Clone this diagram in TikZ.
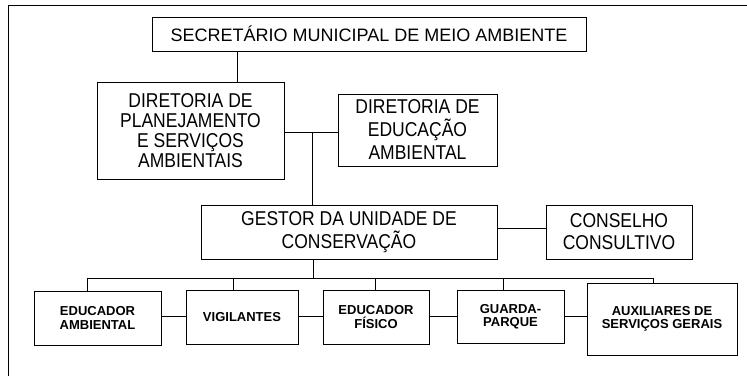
\documentclass[tikz,border=0pt]{standalone}
\usepackage{fontspec}
\setmainfont{Liberation Sans}
\newfontfamily\narrowf{Liberation Sans}[FakeStretch=0.875]
\begin{document}
\begin{tikzpicture}[x=1pt,y=-1pt,
  box/.style={draw,line width=1pt,inner sep=0pt,align=center,anchor=center},
  big/.style={box,font=\narrowf\fontsize{20}{20}\selectfont},
  bigwide/.style={box,font=\narrowf\fontsize{20}{23}\selectfont},
  small/.style={box,font=\bfseries\fontsize{13}{13.5}\selectfont},
  link/.style={line width=1pt}]
\useasboundingbox (0,0) rectangle (747,376);
% outer frame
\draw[line width=1pt] (8,376) -- (8,5) -- (747,5);
% nodes
\node[box,font=\fontsize{18}{20}\selectfont,minimum width=434,minimum height=34] (sec) at (369,34) {SECRETÁRIO MUNICIPAL DE MEIO AMBIENTE};
\node[big,minimum width=187,minimum height=97] (plan) at (190.5,130.5) {DIRETORIA DE\\PLANEJAMENTO\\E SERVIÇOS\\AMBIENTAIS};
\node[bigwide,minimum width=159,minimum height=72] (edu) at (417.5,130) {DIRETORIA DE\\EDUCAÇÃO\\AMBIENTAL};
\node[bigwide,minimum width=296,minimum height=54] (gest) at (349,232) {GESTOR DA UNIDADE DE\\CONSERVAÇÃO};
\node[box,font=\narrowf\fontsize{20}{22}\selectfont,minimum width=146,minimum height=54] (cons) at (619,232) {CONSELHO\\CONSULTIVO};
\node[small,minimum width=127,minimum height=54] (ea) at (97.5,318) {EDUCADOR\\AMBIENTAL};
\node[small,minimum width=112,minimum height=54] (vig) at (242,317) {VIGILANTES};
\node[small,minimum width=106,minimum height=54] (ef) at (376,317) {EDUCADOR\\FÍSICO};
\node[small,minimum width=107,minimum height=53] (gp) at (510.5,316.5) {GUARDA-\\PARQUE};
\node[small,minimum width=150,minimum height=72] (aux) at (662,319) {AUXILIARES DE\\SERVIÇOS GERAIS};
% junction coordinates
\coordinate (j1) at (237,0);
\coordinate (j2) at (312,132);
\coordinate (j3) at (0,228);
\coordinate (busL) at (87,278);
\coordinate (busR) at (653,278);
\coordinate (bus) at (313,278);
\coordinate (j5) at (0,316);
% connectors
\draw[link] (sec.south -| j1) -- (plan.north -| j1);
\draw[link] (plan.east |- j2) -- (edu.west |- j2);
\draw[link] (j2) -- (gest.north -| j2);
\draw[link] (gest.east |- j3) -- (cons.west |- j3);
\draw[link] (gest.south -| bus) -- (bus);
\draw[link] (ea.north -| busL) -- (busL) -- (busR) -- (aux.north -| busR);
\draw[link] (vig.north -| 233,0) -- (233,278);
\draw[link] (ef.north -| 375,0) -- (375,278);
\draw[link] (gp.north -| 503,0) -- (503,278);
\draw[link] (ea.east |- j5) -- (vig.west |- j5);
\draw[link] (vig.east |- j5) -- (ef.west |- j5);
\draw[link] (ef.east |- j5) -- (gp.west |- j5);
\draw[link] (gp.east |- j5) -- (aux.west |- j5);
\end{tikzpicture}
\end{document}
